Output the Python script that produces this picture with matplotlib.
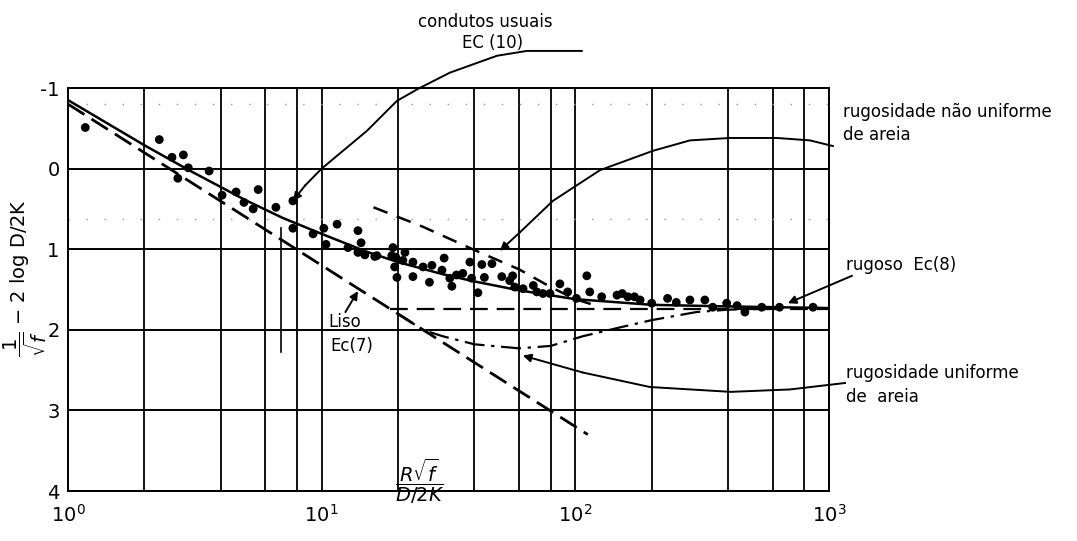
import numpy as np
import matplotlib
matplotlib.use('Agg')
import matplotlib.pyplot as plt

plt.rcParams['font.family'] = ['DejaVu Sans']

# measured points (R sqrt f / (D/2K), 1/sqrt f - 2 log D/2K)
pts_x = [1.17, 2.29, 2.57, 2.85, 2.71, 2.98, 3.6, 4.05, 4.6, 4.94, 5.37, 5.62, 6.6, 7.7, 7.7,
         9.25, 10.2, 10.4, 11.5, 13.9, 14.3, 12.7, 13.9, 14.8, 16.5, 19.6, 19.8, 19.4,
         16.2, 18.9, 19.1, 21.3, 20.9, 22.9, 22.9, 25.1, 27.2, 26.6, 29.8, 30.4, 32, 32.6,
         34, 36, 38.4, 39, 41.3, 42.8, 43.8, 46.9, 51.3, 55.1, 56.6, 57.7, 62.2, 68.3, 70.5,
         74.5, 79.4, 86.9, 93.3, 101, 111, 114, 127, 146, 153, 161, 171, 180, 200, 231, 250,
         283, 324, 348, 395, 434, 466, 543, 638, 865]
pts_y = [-0.51, -0.36, -0.14, -0.17, 0.12, -0.01, 0.03, 0.33, 0.29, 0.42, 0.5, 0.26, 0.48, 0.40, 0.74,
         0.81, 0.74, 0.94, 0.69, 0.77, 0.92, 0.98, 1.04, 1.07, 1.08, 1.10, 1.35, 1.22,
         1.09, 1.08, 0.98, 1.04, 1.14, 1.16, 1.34, 1.22, 1.2, 1.41, 1.26, 1.11, 1.36, 1.46,
         1.32, 1.3, 1.16, 1.36, 1.54, 1.19, 1.35, 1.18, 1.34, 1.39, 1.33, 1.47, 1.49, 1.45, 1.53,
         1.55, 1.55, 1.43, 1.53, 1.61, 1.33, 1.53, 1.59, 1.57, 1.55, 1.59, 1.59, 1.63, 1.67, 1.61, 1.66,
         1.63, 1.63, 1.72, 1.67, 1.70, 1.78, 1.72, 1.72, 1.72]

# curves
usuais_x = [1, 2, 3, 5, 7, 10, 15, 20, 30, 40, 60, 100, 200, 400, 1000]
usuais_y = [-0.85, -0.29, 0.02, 0.39, 0.61, 0.81, 1.03, 1.16, 1.31, 1.40, 1.51, 1.62, 1.69, 1.71, 1.73]

liso_x = [1, 112]
liso_y = [-0.8, 3.3]

rugoso_x = [18.6, 1000]
rugoso_y = [1.74, 1.74]

nao_unif_x = [16, 25, 40, 60, 80, 100, 115]
nao_unif_y = [0.48, 0.72, 1.01, 1.25, 1.47, 1.62, 1.68]

unif_x = [20, 25, 30, 40, 60, 80, 107, 150, 200, 300, 400, 600]
unif_y = [1.80, 2.0, 2.08, 2.18, 2.23, 2.2, 2.08, 1.97, 1.88, 1.78, 1.75, 1.74]

grid_x = [1, 2, 4, 6, 8, 10, 20, 40, 60, 80, 100, 200, 400, 600, 800, 1000]
grid_y = [-1, 0, 1, 2, 3, 4]
xtick_labels = ['$10^0$', '$10^1$', '$10^2$', '$10^3$']

# leader lines of the notes
lead_usuais_x = [106, 64.4, 49.1, 32, 24, 19.8, 15.1, 10, 8.6, 7.7]
lead_usuais_y = [-1.46, -1.46, -1.40, -1.19, -0.99, -0.84, -0.47, 0.0, 0.21, 0.40]
lead_nao_x = [1036, 841, 623, 407, 283, 202, 125, 81.6, 60.5, 50.4]
lead_nao_y = [-0.28, -0.35, -0.38, -0.38, -0.35, -0.22, 0.02, 0.40, 0.79, 1.02]
lead_unif_x = [1156, 702, 410, 197, 107, 62.1]
lead_unif_y = [2.66, 2.74, 2.77, 2.71, 2.53, 2.32]
lead_rug_x = [1232, 688]
lead_rug_y = [1.33, 1.67]
lead_liso_x = [12.4, 13.9]
lead_liso_y = [1.78, 1.52]

W, H = 1077, 541
fig = plt.figure(figsize=(W / 100, H / 100), dpi=100)
ax = fig.add_axes([68 / W, 1 - 491 / H, (829 - 68) / W, (491 - 88) / H])
ax.set_xscale('log')
ax.set_xlim(1, 1000)
ax.set_ylim(4, -1)

for gx in grid_x:
    ax.axvline(gx, color='black', lw=1.3, zorder=1)
for gy in grid_y:
    ax.axhline(gy, color='black', lw=1.4, zorder=1)
ax.plot([6.9, 6.9], [0.74, 2.28], color='black', lw=1.2, zorder=1)
for fy in [-0.8, 0.62]:
    ax.axhline(fy, color='0.6', lw=1.0, ls=(0, (1, 12)), zorder=1)

for s in ax.spines.values():
    s.set_linewidth(1.4)

ax.plot(usuais_x, usuais_y, color='black', lw=1.8, zorder=3)
ax.plot(liso_x, liso_y, color='black', lw=2.0, ls=(0, (7, 3)), zorder=3)
ax.plot(rugoso_x, rugoso_y, color='black', lw=1.6, ls=(0, (8, 4)), zorder=3)
ax.plot(nao_unif_x, nao_unif_y, color='black', lw=1.8, ls=(0, (6, 4)), zorder=3)
ax.plot(unif_x, unif_y, color='black', lw=1.6, ls=(0, (9, 3, 1.5, 3)), zorder=3)
ax.scatter(pts_x, pts_y, s=40, color='black', zorder=4, edgecolors='none')

# notes with leaders
arrow = dict(arrowstyle='-|>', color='black', lw=1.4, mutation_scale=12, shrinkA=0, shrinkB=0)
for lx, ly in [(lead_usuais_x, lead_usuais_y), (lead_nao_x, lead_nao_y),
               (lead_unif_x, lead_unif_y), (lead_rug_x, lead_rug_y), (lead_liso_x, lead_liso_y)]:
    ax.plot(lx[:-1], ly[:-1], color='black', lw=1.4, clip_on=False, zorder=5)
    ax.annotate('', xy=(lx[-1], ly[-1]), xytext=(lx[-2], ly[-2]), arrowprops=arrow,
                annotation_clip=False, zorder=5)

ax.set_xticks([1, 10, 100, 1000])
ax.set_xticklabels(xtick_labels, fontsize=14)
ax.set_xticks([], minor=True)
ax.set_yticks(grid_y)
ax.set_yticklabels(['-1', '0', '1', '2', '3', '4'], fontsize=14)
ax.tick_params(axis='y', length=0, pad=6)
ax.tick_params(axis='x', length=0, pad=9)


def ft(px, py, s, **kw):
    fig.text(px / W, 1 - py / H, s, **kw)


note = dict(fontsize=12, va='center')
ft(485, 22, 'condutos usuais', ha='center', **note)
ft(493, 43, 'EC (10)', ha='center', **note)
ft(843, 112, 'rugosidade não uniforme', ha='left', **note)
ft(843, 135, 'de areia', ha='left', **note)
ft(846, 265, 'rugoso  Ec(8)', ha='left', **note)
ft(846, 373, 'rugosidade uniforme', ha='left', **note)
ft(846, 397, 'de  areia', ha='left', **note)
ft(328, 322, 'Liso', ha='left', **note)
ft(330, 346, 'Ec(7)', ha='left', **note)

ft(420, 490, r'$\dfrac{R\sqrt{f}}{D/2K}$', ha='center', fontsize=14)
ft(25, 278, r'$\dfrac{1}{\sqrt{f}}$ $-$ 2 log D/2K', ha='center', rotation=90, fontsize=14, va='center')

fig.savefig('out.png', dpi=100)
